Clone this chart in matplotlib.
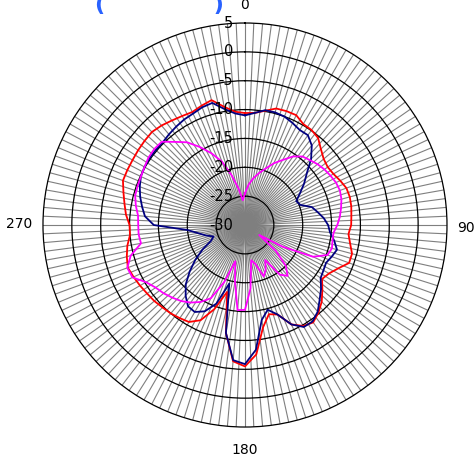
import numpy as np
import matplotlib
matplotlib.use('Agg')
import matplotlib.pyplot as plt
from matplotlib.transforms import offset_copy

plt.rcParams['font.family'] = ['DejaVu Sans']
plt.rcParams['axes.unicode_minus'] = False

# angle in degrees, clockwise from top
angles_deg = np.arange(0, 360, 5)

red = [-10.6, -10.5, -9.9, -9.1, -9.0, -9.0, -9.8, -9.9, -10.3, -11.4,
       -12.2, -12.5, -12.3, -11.8, -11.3, -11.2, -11.3, -11.5, -11.6, -12.0,
       -11.5, -10.8, -10.8, -12.2, -13.2, -13.7, -12.5, -11.2, -10.2, -9.4,
       -9.8, -11.0, -13.5, -14.0, -12.0, -7.5, -5.5, -6.3, -11.0, -18.0,
       -14.5, -11.8, -10.6, -10.3, -10.0, -9.8, -9.5, -9.3, -9.0, -8.7,
       -8.4, -8.8, -9.3, -10.0, -10.0, -9.3, -8.8, -8.2, -7.5, -7.5,
       -7.5, -7.4, -7.3, -7.2, -7.5, -7.9, -8.2, -8.4, -8.0, -7.6,
       -9.2, -10.3]

blue = [-11.0, -10.5, -9.8, -9.8, -10.0, -10.5, -11.0, -11.0, -12.0, -13.8,
        -16.0, -17.5, -19.0, -20.2, -19.8, -18.0, -17.2, -16.3, -15.6, -15.2,
        -14.3, -13.5, -14.0, -14.5, -14.3, -14.0, -12.8, -11.7, -10.4, -9.6,
        -9.6, -11.0, -13.5, -14.8, -13.3, -8.3, -5.9, -6.5, -11.0, -19.5,
        -15.5, -13.5, -12.6, -12.8, -14.0, -15.5, -17.5, -19.5, -21.5, -23.5,
        -24.2, -23.0, -21.8, -20.0, -14.2, -12.6, -11.9, -11.2, -10.6, -10.1,
        -9.9, -9.8, -9.8, -9.8, -9.5, -9.2, -8.9, -8.7, -8.3, -8.1,
        -9.6, -10.6]

magenta = [-24.5, -23.0, -21.8, -20.7, -19.6, -18.2, -17.0, -15.5, -14.5, -14.1,
           -13.6, -13.2, -12.9, -12.6, -12.5, -12.7, -13.1, -13.5, -14.0, -14.6,
           -14.6, -14.4, -14.8, -17.0, -22.5, -27.0, -23.0, -20.0, -18.5, -19.5,
           -23.0, -21.5, -20.5, -23.0, -23.8, -19.0, -15.3, -15.2, -20.0, -23.5,
           -19.5, -16.0, -14.6, -13.6, -12.8, -12.2, -11.6, -11.1, -10.2, -8.5,
           -8.3, -9.5, -11.7, -11.5, -11.5, -11.4, -10.8, -10.3, -10.2, -10.1,
           -9.9, -9.6, -9.5, -9.6, -11.2, -12.5, -14.4, -16.3, -18.3, -21.1,
           -23.6, -25.7]

r_ticks = [5, 0, -5, -10, -15, -20, -25, -30]
angle_ticks = [0, 90, 180, 270]

fig = plt.figure(figsize=(4.77, 4.63), dpi=100)
ax = fig.add_axes([0.0901, 0.0777, 0.847, 0.8726], projection='polar')
ax.set_theta_zero_location('N')
ax.set_theta_direction(-1)
ax.set_ylim(-30, 5)

spokes = np.arange(0, 360, 2.5)
ax.set_thetagrids(spokes, [''] * len(spokes))
ax.set_rgrids([-25, -20, -15, -10, -5, 0], labels=[''] * 6)
ax.xaxis.grid(True, color='#7f7f7f', linewidth=0.8)
ax.yaxis.grid(True, color='black', linewidth=0.9)
ax.spines['polar'].set_color('black')
ax.spines['polar'].set_linewidth(0.9)

th = np.deg2rad(np.append(angles_deg, 360))
for vals, col in [(red, '#ff0000'), (blue, '#000080'), (magenta, '#ff00ff')]:
    v = np.append(vals, vals[0])
    ax.plot(th, v, color=col, linewidth=1.3)

# radial labels just left of the 0 spoke
lab_tr = offset_copy(ax.transData, fig=fig, x=-12, y=0, units='dots')
for r in r_ticks:
    ax.text(0, r, str(r), transform=lab_tr, ha='right', va='center', fontsize=10.5)

# angle labels outside the ring
offs = {0: (0, 18, 'center', 'center'), 90: (10, -3, 'left', 'center'),
        180: (0, -16, 'center', 'top'), 270: (-11, 1, 'right', 'center')}
for a in angle_ticks:
    dx, dy, ha, va = offs[a]
    tr = offset_copy(ax.transData, fig=fig, x=dx, y=dy, units='dots')
    ax.text(np.deg2rad(a), 5, str(a), transform=tr, ha=ha, va=va, fontsize=10)

fig.text(95 / 477, 1 + 5 / 463, '(' + ' ' * 14 + ')', color='#2962ff',
         fontsize=16, fontweight='bold', ha='left', va='top')

fig.savefig('out.png', dpi=100)
